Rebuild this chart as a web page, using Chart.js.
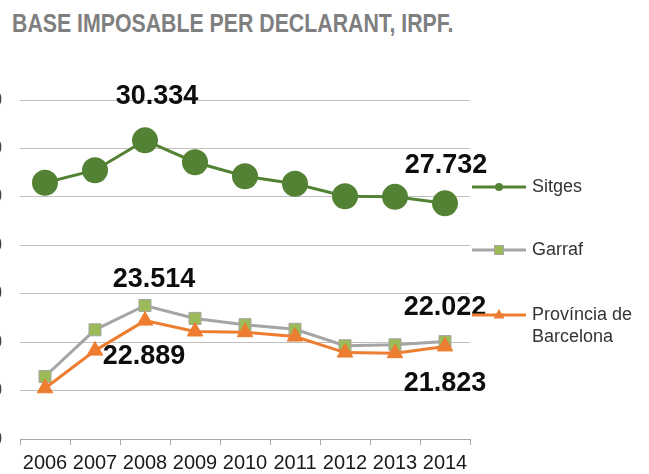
<!DOCTYPE html>
<html>
<head>
<meta charset="utf-8">
<script src="https://cdn.jsdelivr.net/npm/chart.js@4.4.1/dist/chart.umd.min.js"></script>
<style>
  html, body { margin: 0; padding: 0; background: #fff; }
  body { width: 649px; height: 474px; position: relative; overflow: hidden; }
  #title {
    position: absolute; left: 12px; top: 8px; margin: 0;
    font-family: "Liberation Sans", Arial, sans-serif; font-weight: bold;
    font-size: 26px; line-height: 30px; color: #7f7f7f; white-space: nowrap;
    transform: scaleX(0.819); transform-origin: 0 0;
  }
  #wrap { position: absolute; left: -60px; top: 0; width: 709px; height: 474px; }
</style>
</head>
<body>
<div id="title">BASE IMPOSABLE PER DECLARANT, IRPF.</div>
<div id="wrap"><canvas id="c" width="709" height="474"></canvas></div>
<script>
// ---- data ----
const years = ['2006','2007','2008','2009','2010','2011','2012','2013','2014'];
const sitges = [28580, 29100, 30334, 29430, 28850, 28540, 28025, 28000, 27732];
const garraf = [20580, 22510, 23514, 22980, 22720, 22530, 21850, 21890, 22022];
const provincia = [20095, 21650, 22889, 22440, 22410, 22230, 21570, 21545, 21823];
const seriesNames = ['Sitges', 'Garraf', 'Província de Barcelona'];
const yTicks = [18000, 20000, 22000, 24000, 26000, 28000, 30000, 32000];

const FONT = '"Liberation Sans", Arial, sans-serif';
const fmt = v => String(v).replace(/\B(?=(\d{3})+(?!\d))/g, '.');

// which points get value labels (dataset index, point index) and label offsets
const valueLabels = [
  { ds: 0, i: 2, dx: 12, dy: -44 },
  { ds: 0, i: 8, dx: 1, dy: -38 },
  { ds: 1, i: 2, dx: 9, dy: -26 },
  { ds: 1, i: 8, dx: 0, dy: -34 },
  { ds: 2, i: 2, dx: -1, dy: 36 },
  { ds: 2, i: 8, dx: 0, dy: 37 }
];

const valueLabelPlugin = {
  id: 'valueLabels',
  afterDatasetsDraw(chart) {
    const ctx = chart.ctx;
    ctx.save();
    ctx.font = 'bold 27px ' + FONT;
    ctx.fillStyle = '#0d0d0d';
    ctx.textAlign = 'center';
    ctx.textBaseline = 'middle';
    valueLabels.forEach(l => {
      const pt = chart.getDatasetMeta(l.ds).data[l.i];
      const v = chart.data.datasets[l.ds].data[l.i];
      ctx.fillText(fmt(v), pt.x + l.dx, pt.y + l.dy);
    });
    ctx.restore();
  }
};

const legendLayout = { x: 532, ys: [187, 250, 315], lineH: 22, maxW: 112 };

const legendPlugin = {
  id: 'sideLegend',
  afterDraw(chart) {
    const ctx = chart.ctx;
    const off = 60;
    ctx.save();
    chart.data.datasets.forEach((ds, k) => {
      const y = legendLayout.ys[k];
      const x0 = 472 + off, x1 = 526 + off, xm = 499 + off;
      ctx.strokeStyle = ds.borderColor;
      ctx.lineWidth = 3;
      ctx.beginPath(); ctx.moveTo(x0, y); ctx.lineTo(x1, y); ctx.stroke();
      ctx.fillStyle = ds.pointBackgroundColor;
      ctx.strokeStyle = ds.pointBorderColor;
      ctx.lineWidth = 1;
      if (ds.pointStyle === 'circle') {
        ctx.beginPath(); ctx.arc(xm, y, 4, 0, Math.PI * 2); ctx.fill();
      } else if (ds.pointStyle === 'rect') {
        ctx.fillRect(xm - 4.5, y - 4.5, 9, 9);
        ctx.strokeRect(xm - 4.5, y - 4.5, 9, 9);
      } else {
        ctx.beginPath();
        ctx.moveTo(xm, y - 6); ctx.lineTo(xm + 5.5, y + 3.5); ctx.lineTo(xm - 5.5, y + 3.5);
        ctx.closePath(); ctx.fill();
      }
      ctx.font = '18px ' + FONT;
      ctx.fillStyle = '#333333';
      ctx.textAlign = 'left';
      ctx.textBaseline = 'middle';
      const words = ds.label.split(' ');
      const lines = [];
      let cur = '';
      words.forEach(w => {
        const t = cur ? cur + ' ' + w : w;
        if (ctx.measureText(t).width > legendLayout.maxW && cur) { lines.push(cur); cur = w; }
        else cur = t;
      });
      lines.push(cur);
      lines.forEach((ln, j) => ctx.fillText(ln, legendLayout.x + off, y + j * legendLayout.lineH));
    });
    ctx.restore();
  }
};

new Chart(document.getElementById('c'), {
  type: 'line',
  data: {
    labels: years,
    datasets: [
      {
        label: seriesNames[0], data: sitges, order: 0,
        borderColor: '#548235', borderWidth: 3,
        pointStyle: 'circle', pointRadius: 12, pointBorderWidth: 2,
        pointBackgroundColor: '#548235', pointBorderColor: '#548235',
        tension: 0
      },
      {
        label: seriesNames[1], data: garraf, order: 2,
        borderColor: '#a5a5a5', borderWidth: 3,
        pointStyle: 'rect', pointRadius: 8.5, pointBorderWidth: 1,
        pointBackgroundColor: '#9bbb59', pointBorderColor: '#a5a5a5',
        tension: 0
      },
      {
        label: seriesNames[2], data: provincia, order: 1,
        borderColor: '#ed7d31', borderWidth: 3,
        pointStyle: 'triangle', pointRadius: 9, pointBorderWidth: 1,
        pointBackgroundColor: '#ed7d31', pointBorderColor: '#ed7d31',
        tension: 0
      }
    ]
  },
  options: {
    responsive: false,
    animation: false,
    devicePixelRatio: 1,
    layout: { padding: { top: 100, right: 179, bottom: 0, left: 0 } },
    plugins: { legend: { display: false }, title: { display: false }, tooltip: { enabled: false } },
    scales: {
      x: {
        type: 'category',
        offset: true,
        grid: { offset: true, drawOnChartArea: false, drawTicks: true, tickLength: 6, color: '#a6a6a6' },
        border: { display: true, color: '#a6a6a6', width: 1 },
        ticks: { font: { family: FONT, size: 20 }, color: '#1a1a1a', padding: 6, maxRotation: 0, autoSkip: false },
        afterFit: s => { s.height = 35; }
      },
      y: {
        min: yTicks[0], max: yTicks[yTicks.length - 1],
        afterBuildTicks: s => { s.ticks = yTicks.map(v => ({ value: v })); },
        grid: { color: '#bfbfbf', drawTicks: false, lineWidth: 1 },
        border: { display: false },
        ticks: { font: { family: FONT, size: 20 }, color: '#404040', padding: 18, callback: v => fmt(v) },
        afterFit: s => { s.width = 80; }
      }
    }
  },
  plugins: [valueLabelPlugin, legendPlugin]
});
</script>
</body>
</html>
